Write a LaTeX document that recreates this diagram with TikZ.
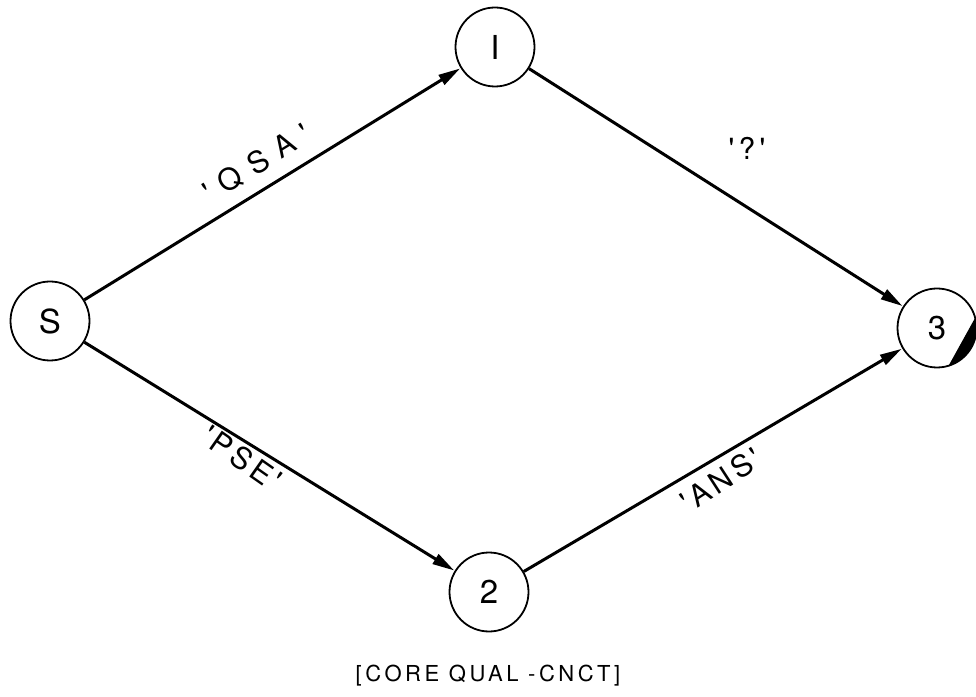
\documentclass[tikz,border=0pt]{standalone}
\usepackage{fontspec}
\setmainfont{TeX Gyre Heros}
\usetikzlibrary{arrows.meta}
\newfontfamily\lblfont[LetterSpace=14]{TeX Gyre Heros}
\newfontfamily\wideflt[LetterSpace=38]{TeX Gyre Heros}
\newfontfamily\capfont[LetterSpace=16]{TeX Gyre Heros}
\tikzset{
  state/.style={circle, draw, line width=1.8pt, minimum size=79pt, inner sep=0pt, font=\fontsize{33}{33}\selectfont},
  edge/.style={line width=3pt, -{Triangle[length=22pt,width=11pt]}, shorten >=0.5pt},
  elabel/.style={inner sep=0pt, font=\fontsize{30}{30}\lblfont},
  caption/.style={inner sep=0pt, font=\fontsize{22}{22}\capfont}
}
\begin{document}
\begin{tikzpicture}[x=1pt,y=1pt]
\useasboundingbox (0,0) rectangle (976,696);
\node[state] (s) at (50,375) {S};
\node[state] (n1) at (495,649) {I};
\node[state] (n2) at (489,104) {2};
\node[state] (n3) at (937,368) {3};
\fill[shift={(n3.center)}] (-73:39.5pt) arc[start angle=-73, end angle=15, radius=39.5pt] -- cycle;
\draw[edge] (s) -- (n1);
\draw[edge] (s) -- (n2);
\draw[edge] (n1) -- (n3);
\draw[edge] (n2) -- (n3);
\node[elabel, rotate=31.5] (lqsa) at (257,533) {\fontsize{30}{30}\wideflt 'QSA'};
\node[elabel, rotate=-35] (lpse) at (242,238) {'PSE'};
\node[elabel] (lq) at (747,548) {'?'};
\node[elabel, rotate=33] (lans) at (721,216) {'ANS'};
\node[caption] (cap) at (488,20) {[CORE QUAL -CNCT]};
\end{tikzpicture}
\end{document}
